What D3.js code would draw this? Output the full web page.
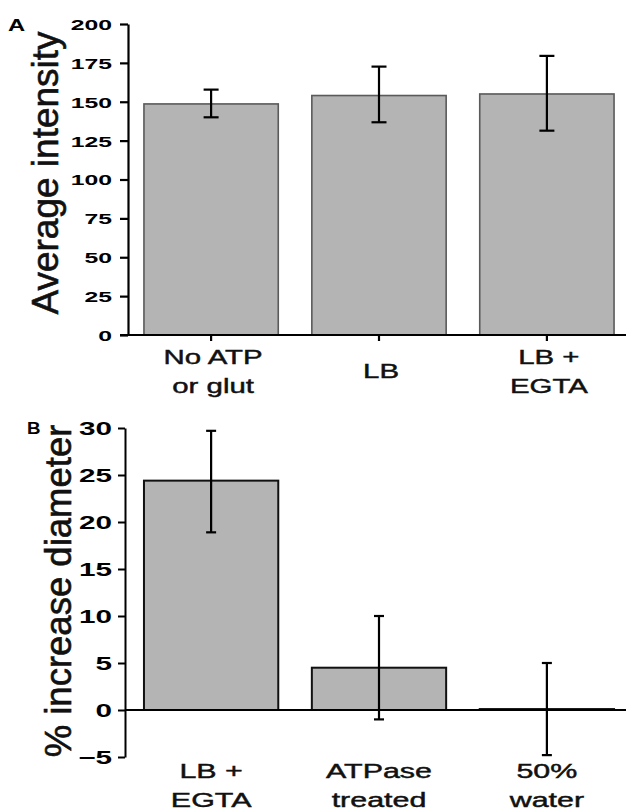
<!DOCTYPE html>
<html>
<head>
<meta charset="utf-8">
<script src="https://cdn.jsdelivr.net/npm/d3@7"></script>
<style>
  body { margin: 0; background: #fff; }
  svg { display: block; font-family: "Liberation Sans", Arial, sans-serif; }
</style>
</head>
<body>
<svg id="chart" width="638" height="811"></svg>
<script>
// panel A data
const catsA = [["No ATP", "or glut"], ["LB"], ["LB +", "EGTA"]];
const meanA = [148.6, 154, 155];
const loA = [140, 136.8, 131.4];
const hiA = [157.8, 172.6, 179.5];
const ticksA = [0, 25, 50, 75, 100, 125, 150, 175, 200];

// panel B data
const catsB = [["LB +", "EGTA"], ["ATPase", "treated"], ["50%", "water"]];
const meanB = [24.4, 4.5, 0.1];
const loB = [18.9, -1, -4.8];
const hiB = [29.7, 10, 5];
const ticksB = [-5, 0, 5, 10, 15, 20, 25, 30];

const svg = d3.select('#chart');
const barFill = '#b4b4b4';

// ---------- panel A ----------
const xA = d3.scaleBand().domain(d3.range(3)).range([128, 630]).paddingInner(0.2).paddingOuter(0.095);
const yA = d3.scaleLinear().domain([0, 200]).range([335, 24]);

const gA = svg.append('g');

gA.selectAll('rect.bar')
  .data(meanA)
  .enter().append('rect')
  .attr('class', 'bar')
  .attr('x', (d, i) => xA(i))
  .attr('y', d => yA(d))
  .attr('width', xA.bandwidth())
  .attr('height', d => yA(0) - yA(d))
  .attr('fill', barFill)
  .attr('stroke', '#5a5a5a')
  .attr('stroke-width', 1.6);

const errA = gA.append('g').attr('stroke', '#000').attr('stroke-width', 2.2);
meanA.forEach((d, i) => {
  const cx = xA(i) + xA.bandwidth() / 2;
  errA.append('line').attr('x1', cx).attr('x2', cx).attr('y1', yA(loA[i])).attr('y2', yA(hiA[i]));
  [loA[i], hiA[i]].forEach(v => {
    errA.append('line').attr('x1', cx - 7.5).attr('x2', cx + 7.5).attr('y1', yA(v)).attr('y2', yA(v));
  });
});

const axA = gA.append('g')
  .attr('transform', 'translate(128,0)')
  .call(d3.axisLeft(yA).tickValues(ticksA).tickSize(8).tickSizeOuter(0));
axA.select('.domain').attr('stroke-width', 2.2);
axA.selectAll('.tick line').attr('stroke-width', 2.2);
axA.selectAll('.tick text')
  .attr('x', 0).attr('dy', '0.36em')
  .attr('transform', 'translate(-16,0) scale(1.65,1)')
  .attr('font-size', 15).attr('font-weight', 'bold')
  .attr('font-family', '"Liberation Sans", Arial, sans-serif');

const axAx = gA.append('g')
  .attr('transform', 'translate(0,335)')
  .call(d3.axisBottom(xA).tickSize(6).tickSizeOuter(0).tickFormat(''));
axAx.select('.domain').attr('stroke-width', 2.2).attr('d', 'M120,0H626');
axAx.selectAll('.tick line').attr('stroke-width', 2.2);

// category labels A
catsA.forEach((lines, i) => {
  const cx = xA(i) + xA.bandwidth() / 2 + 2;
  const base = lines.length === 1 ? 378 : 364;
  lines.forEach((t, j) => {
    gA.append('text')
      .attr('transform', `translate(${cx},${base + j * 29}) scale(1.4,1)`)
      .attr('text-anchor', 'middle')
      .attr('font-size', 21)
      .attr('fill', '#111').attr('stroke', '#111').attr('stroke-width', 0.45)
      .text(t);
  });
});

gA.append('text')
  .attr('transform', 'translate(58,173) rotate(-90)')
  .attr('text-anchor', 'middle')
  .attr('font-size', 37)
  .attr('fill', '#111').attr('stroke', '#111').attr('stroke-width', 0.6)
  .text('Average intensity');

gA.append('text')
  .attr('transform', 'translate(8,31) scale(1.4,1)')
  .attr('font-size', 17).attr('font-weight', 'bold')
  .text('A');

// ---------- panel B ----------
const xB = d3.scaleBand().domain(d3.range(3)).range([125, 633]).paddingInner(0.2).paddingOuter(0.113);
const yB = d3.scaleLinear().domain([-5, 30]).range([757, 428]);

const gB = svg.append('g');

gB.selectAll('rect.bar')
  .data(meanB)
  .enter().append('rect')
  .attr('class', 'bar')
  .attr('x', (d, i) => xB(i))
  .attr('y', d => yB(d))
  .attr('width', xB.bandwidth())
  .attr('height', d => yB(0) - yB(d))
  .attr('fill', barFill)
  .attr('stroke', '#111')
  .attr('stroke-width', 2);

// zero line
gB.append('line')
  .attr('x1', 125).attr('x2', 626)
  .attr('y1', yB(0)).attr('y2', yB(0))
  .attr('stroke', '#000').attr('stroke-width', 1.8);

const errB = gB.append('g').attr('stroke', '#000').attr('stroke-width', 2.2);
meanB.forEach((d, i) => {
  const cx = xB(i) + xB.bandwidth() / 2;
  errB.append('line').attr('x1', cx).attr('x2', cx).attr('y1', yB(loB[i])).attr('y2', yB(hiB[i]));
  [loB[i], hiB[i]].forEach(v => {
    errB.append('line').attr('x1', cx - 5).attr('x2', cx + 5).attr('y1', yB(v)).attr('y2', yB(v));
  });
});

const axB = gB.append('g')
  .attr('transform', 'translate(125,0)')
  .call(d3.axisLeft(yB).tickValues(ticksB).tickSize(7).tickSizeOuter(0));
axB.select('.domain').attr('stroke-width', 2);
axB.selectAll('.tick line').attr('stroke-width', 2);
axB.selectAll('.tick text')
  .attr('x', 0).attr('dy', '0.36em')
  .attr('transform', 'translate(-13,0) scale(1.65,1)')
  .attr('font-size', 18).attr('font-weight', 'bold')
  .attr('font-family', '"Liberation Sans", Arial, sans-serif');

catsB.forEach((lines, i) => {
  const cx = xB(i) + xB.bandwidth() / 2;
  lines.forEach((t, j) => {
    gB.append('text')
      .attr('transform', `translate(${cx},${778 + j * 29}) scale(1.45,1)`)
      .attr('text-anchor', 'middle')
      .attr('font-size', 21)
      .attr('fill', '#111').attr('stroke', '#111').attr('stroke-width', 0.45)
      .text(t);
  });
});

gB.append('text')
  .attr('transform', 'translate(71,591) rotate(-90)')
  .attr('text-anchor', 'middle')
  .attr('font-size', 36.5)
  .attr('fill', '#111').attr('stroke', '#111').attr('stroke-width', 0.6)
  .text('% increase diameter');

gB.append('text')
  .attr('transform', 'translate(27,434) scale(1.1,1)')
  .attr('font-size', 17).attr('font-weight', 'bold')
  .text('B');
</script>
</body>
</html>
